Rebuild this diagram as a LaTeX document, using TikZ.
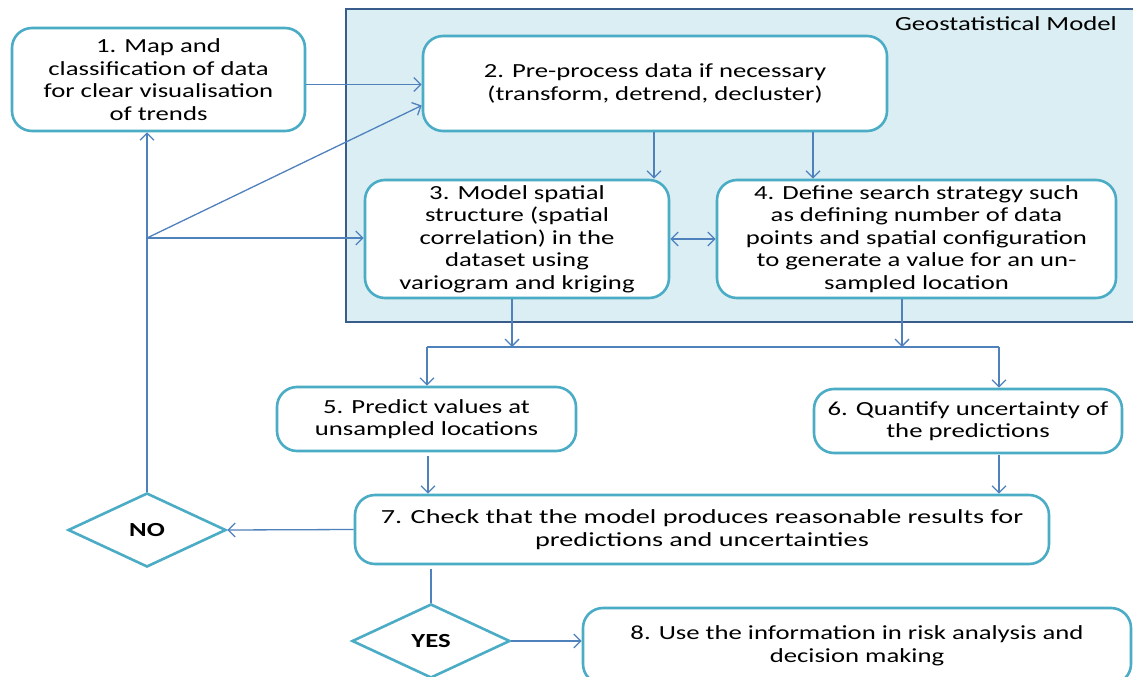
\documentclass[tikz,border=0pt]{standalone}
\usepackage{fontspec}
\setmainfont[FakeStretch=1.335]{Carlito}
\newfontfamily\wideCarlito[FakeStretch=1.41]{Carlito}
\usetikzlibrary{arrows.meta,shapes.geometric,calc}
\definecolor{teal}{HTML}{4BACC6}
\definecolor{arrowblue}{HTML}{4F81BD}
\definecolor{geofill}{HTML}{DAEEF3}
\definecolor{geoline}{HTML}{385D8A}
\tikzset{
  stepbox/.style={draw=teal, line width=2.6pt, rounded corners=20pt, fill=white, align=center, inner sep=0pt, font=\fontsize{20}{22.5}\selectfont},
  dec/.style={diamond, draw=teal, line width=2.6pt, fill=white, inner sep=0pt, font=\fontsize{20}{22}\selectfont\bfseries},
  arr/.style={draw=arrowblue, line width=1.3pt, -{Straight Barb[length=7pt,width=14pt]}},
  ln/.style={draw=arrowblue, line width=1.3pt},
  darr/.style={draw=arrowblue, line width=1.3pt, {Straight Barb[length=7pt,width=14pt]}-{Straight Barb[length=7pt,width=14pt]}},
}
\begin{document}
\begin{tikzpicture}[x=1pt,y=-1pt]
\clip (0,0) rectangle (1133,677);
\fill[white] (0,0) rectangle (1133,677);
% Geostatistical model region
\draw[fill=geofill, draw=geoline, line width=2.6pt] (346,9) rectangle (1150,322);
\node[font=\fontsize{20}{22}\selectfont, anchor=east, inner sep=0pt] (geo) at (1117,24) {Geostatistical Model};
% boxes
\node[stepbox, minimum width=293pt, minimum height=103pt] (b1) at (158.5,79.5) {1. Map and\\classification of data\\for clear visualisation\\of trends};
\node[stepbox, minimum width=464pt, minimum height=95pt] (b2) at (655,83.5) {2. Pre-process data if necessary\\(transform, detrend, decluster)};
\node[stepbox, minimum width=304pt, minimum height=118pt] (b3) at (517,239) {3. Model spatial\\structure (spatial\\correlation) in the\\dataset using\\variogram and kriging};
\node[stepbox, minimum width=399pt, minimum height=118pt] (b4) at (916.5,239) {4. Define search strategy such\\as defining number of data\\points and spatial configuration\\to generate a value for an un-\\sampled location};
\node[stepbox, minimum width=299pt, minimum height=64pt] (b5) at (426.5,419) {5. Predict values at\\unsampled locations};
\node[stepbox, minimum width=308pt, minimum height=64pt] (b6) at (968,421) {6. Quantify uncertainty of\\the predictions};
\node[stepbox, minimum width=694pt, minimum height=69pt, font=\wideCarlito\fontsize{20}{22.5}\selectfont] (b7) at (702,529.5) {7. Check that the model produces reasonable results for\\predictions and uncertainties};
\node[stepbox, minimum width=548pt, minimum height=76pt] (b8) at (857,646) {8. Use the information in risk analysis and\\decision making};
% decisions
\node[dec, minimum width=158pt, minimum height=74pt] (no) at (147,530) {NO};
\node[dec, minimum width=158pt, minimum height=74pt] (yes) at (431,641) {YES};
% junctions
\coordinate (J) at (147,238);
\coordinate (busL) at (427,347);
\coordinate (busR) at (999,347);
% connectors
\draw[arr] ([yshift=-5pt]b1.east) -- ([yshift=-5pt]b1.east -| b2.west);
\draw[arr] (J) -- ([yshift=-22pt]b2.west);
\draw[arr] (J) -- (J -| b3.west);
\draw[arr] (no.north) -- (no.north |- b1.south);
\draw[arr] ([xshift=-1pt]b2.south) -- ([xshift=-1pt]b2.south |- b3.north);
\draw[arr] ([xshift=158pt]b2.south) -- ([xshift=158pt]b2.south |- b4.north);
\draw[darr] (b3.east) -- (b4.west);
\draw[arr] ([xshift=-5pt]b3.south) -- ([xshift=-5pt]b3.south |- busL);
\draw[arr] ([xshift=-14.5pt]b4.south) -- ([xshift=-14.5pt]b4.south |- busL);
\draw[ln] (busL) -- (busR);
\draw[arr] (busL) -- (busL |- b5.north);
\draw[arr] (busR) -- (busR |- b6.north);
\draw[arr] ([xshift=1.5pt,yshift=-4pt]b5.south) -- ([xshift=1.5pt]b5.south |- b7.north);
\draw[arr] ([yshift=-1pt]busR |- b6.south) -- (busR |- b7.north);
\draw[arr] (b7.west) -- (no.east);
\draw[ln] ([yshift=-4pt]b7.south -| yes.north) -- (yes.north);
\draw[arr] (yes.east) -- (yes.east -| b8.west);
\end{tikzpicture}
\end{document}
